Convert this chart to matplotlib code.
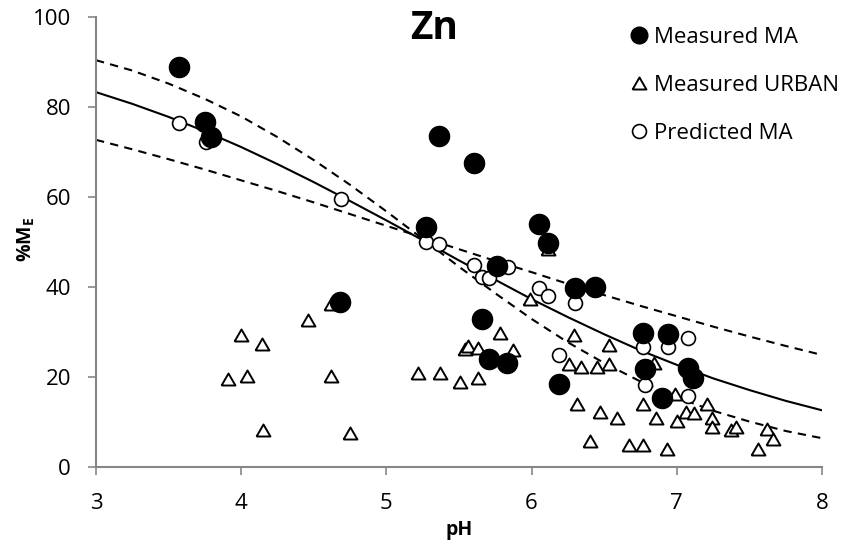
import numpy as np
import matplotlib
matplotlib.use('Agg')
import matplotlib.pyplot as plt
from matplotlib.lines import Line2D

plt.rcParams['font.family'] = ['Open Sans', 'DejaVu Sans']
plt.rcParams['mathtext.fontset'] = 'custom'
plt.rcParams['mathtext.rm'] = 'Open Sans'
plt.rcParams['mathtext.bf'] = 'Open Sans:bold'

# Measured MA (filled circles)
ma_ph = [3.57, 3.75, 3.79, 5.36, 5.60, 5.27, 6.05, 6.11, 4.68, 5.76, 5.66,
         5.71, 5.83, 6.19, 6.30, 6.44, 6.77, 6.94, 6.78, 6.90, 7.08, 7.11]
ma_me = [88.9, 76.7, 73.3, 73.6, 67.6, 53.3, 54.0, 49.8, 36.7, 44.7, 32.9,
         24.0, 23.1, 18.4, 39.8, 40.0, 29.8, 29.6, 21.8, 15.3, 22.0, 19.8]

# Measured URBAN (open triangles)
urban_ph = [4.00, 4.14, 3.91, 4.04, 4.15, 4.46, 4.62, 4.62, 4.75, 5.22,
            5.37, 5.51, 5.63, 5.54, 5.56, 5.63, 5.78, 5.87, 5.99, 6.11,
            6.29, 6.53, 6.26, 6.34, 6.45, 6.53, 6.31, 6.47, 6.59, 6.40,
            6.67, 6.77, 6.93, 6.77, 6.86, 6.84, 6.99, 7.00, 7.06, 7.12,
            7.21, 7.24, 7.24, 7.37, 7.41, 7.56, 7.62, 7.66]
urban_me = [29.3, 27.4, 19.6, 20.3, 8.3, 32.7, 36.3, 20.3, 7.6, 20.8,
            20.9, 19.0, 19.8, 26.2, 26.8, 26.5, 29.7, 26.0, 37.4, 48.4,
            29.4, 27.2, 22.8, 22.3, 22.3, 22.8, 13.9, 12.3, 10.8, 5.7,
            5.0, 5.0, 3.9, 14.0, 11.0, 23.1, 16.3, 10.3, 12.3, 11.9,
            13.9, 11.0, 8.8, 8.3, 9.0, 3.9, 8.5, 6.3]

# Predicted MA (open circles)
pred_ph = [3.57, 3.76, 4.69, 5.27, 5.36, 5.60, 5.66, 5.71, 5.84, 6.05,
           6.11, 6.30, 6.19, 6.77, 6.94, 7.08, 6.78, 7.08]
pred_me = [76.5, 72.2, 59.6, 50.0, 49.6, 44.9, 42.2, 42.0, 44.4, 39.8,
           38.0, 36.4, 24.9, 26.7, 26.7, 28.7, 18.2, 15.8]

# Model curve and its two bounds, read along the pH axis
curve_ph = [3.0, 3.25, 3.5, 3.75, 4.0, 4.25, 4.5, 4.75, 5.0, 5.25, 5.5,
            5.75, 6.0, 6.25, 6.5, 6.75, 7.0, 7.25, 7.5, 7.75, 8.0]
fit_me = [83.3, 80.7, 77.8, 74.6, 71.1, 67.3, 63.3, 59.1, 54.8, 50.4, 45.9,
          41.6, 37.3, 33.3, 29.5, 25.9, 22.7, 19.7, 17.1, 14.7, 12.6]
bound_steep = [90.4, 88.1, 85.2, 81.8, 77.9, 73.3, 68.2, 62.7, 56.8, 50.7,
               44.5, 38.6, 32.9, 27.7, 23.1, 19.0, 15.5, 12.5, 10.1, 8.0, 6.4]
bound_flat = [72.7, 70.6, 68.4, 66.1, 63.7, 61.3, 58.8, 56.2, 53.6, 51.0,
              48.4, 45.8, 43.3, 40.7, 38.2, 35.8, 33.5, 31.2, 29.0, 26.9, 24.9]

x_ticks = [3, 4, 5, 6, 7, 8]
y_ticks = [0, 20, 40, 60, 80, 100]

# equilateral triangle centred on its bounding box
tri = [(-0.5, -0.433), (0.5, -0.433), (0.0, 0.433), (-0.5, -0.433)]

fig = plt.figure(figsize=(8.49, 5.5), dpi=100)
ax = fig.add_axes([96 / 849, 1 - 467 / 550, 726 / 849, 450 / 550])

ax.plot(curve_ph, fit_me, color='black', lw=1.5, zorder=1)
ax.plot(curve_ph, bound_steep, color='black', lw=1.5, ls=(0, (4, 3)), zorder=1)
ax.plot(curve_ph, bound_flat, color='black', lw=1.5, ls=(0, (4, 3)), zorder=1)

ax.plot(urban_ph, urban_me, ls='none', marker=tri, ms=10, mfc='white',
        mec='black', mew=1.4, zorder=2)
ax.plot(pred_ph, pred_me, ls='none', marker='o', ms=10, mfc='white',
        mec='black', mew=1.2, zorder=3)
ax.plot(ma_ph, ma_me, ls='none', marker='o', ms=14.5, mfc='black',
        mec='black', zorder=4)

ax.set_xlim(3, 8)
ax.set_ylim(0, 100)
ax.set_xticks(x_ticks)
ax.set_yticks(y_ticks)
for side in ('top', 'right'):
    ax.spines[side].set_visible(False)
for side in ('left', 'bottom'):
    ax.spines[side].set_color('#868686')
    ax.spines[side].set_linewidth(1.5)
ax.tick_params(axis='both', direction='out', length=6, width=1.2,
               color='#868686', labelsize=16, labelcolor='black')
ax.tick_params(axis='y', pad=12)
ax.tick_params(axis='x', pad=13)

ax.set_xlabel('pH', fontsize=14, fontweight='bold')
ax.xaxis.set_label_coords(0.5, -0.118)
ax.set_ylabel(r'%M$_\mathbf{E}$', fontsize=14, fontweight='bold')
ax.yaxis.set_label_coords(-0.081, 0.505)

ax.text(5.33, 97.5, 'Zn', fontsize=28, fontweight='bold', ha='center',
        va='center')

handles = [
    Line2D([], [], ls='none', marker='o', ms=12, mfc='black', mec='black'),
    Line2D([], [], ls='none', marker=tri, ms=10, mfc='white', mec='black', mew=1.4),
    Line2D([], [], ls='none', marker='o', ms=10, mfc='white', mec='black', mew=1.2),
]
labels = ['Measured MA', 'Measured URBAN', 'Predicted MA']
fig.legend(handles, labels, loc='upper left',
           bbox_to_anchor=(630 / 849, 1 - 27 / 550), frameon=False,
           fontsize=16, handlelength=0.8, handletextpad=0.3,
           labelspacing=1.22, borderpad=0, borderaxespad=0)

fig.savefig('out.png', dpi=100)
